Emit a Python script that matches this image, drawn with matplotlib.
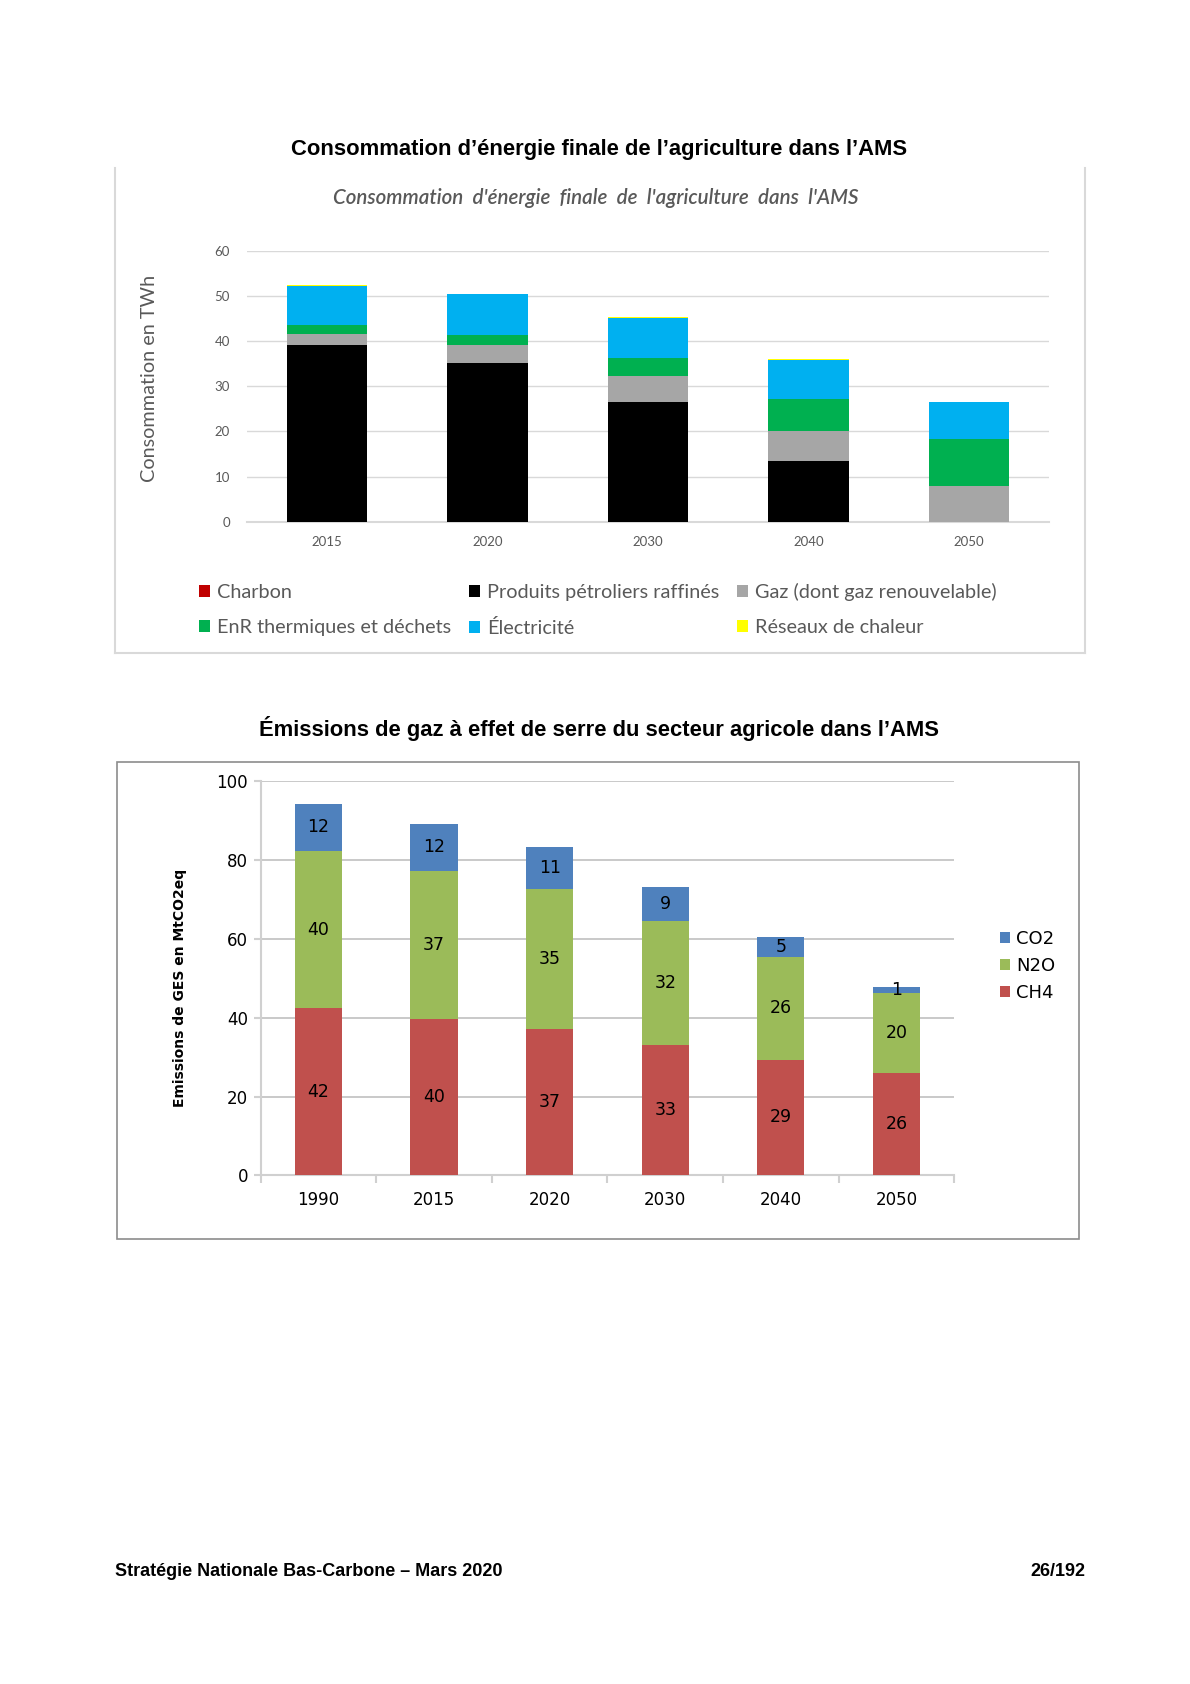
import matplotlib
matplotlib.use('Agg')
import matplotlib.pyplot as plt
from matplotlib.patches import Rectangle
from matplotlib.lines import Line2D
import numpy as np

# --- Energy consumption (TWh) ---
years_energy = ['2015', '2020', '2030', '2040', '2050']
charbon = [0.0, 0.0, 0.0, 0.0, 0.0]
petrole = [39.2, 35.1, 26.6, 13.4, 0.0]
gaz = [2.4, 4.1, 5.6, 6.7, 8.0]
enr = [1.9, 2.1, 4.0, 7.0, 10.3]
elec = [8.7, 9.1, 9.0, 8.7, 8.3]
chaleur = [0.3, 0.0, 0.2, 0.2, 0.0]

energy_names = ['Charbon', 'Produits pétroliers raffinés', 'Gaz (dont gaz renouvelable)',
                'EnR thermiques et déchets', 'Électricité', 'Réseaux de chaleur']
energy_colors = ['#c00000', '#000000', '#a6a6a6', '#00b050', '#00b0f0', '#ffff00']

# --- GHG emissions (MtCO2eq) ---
years_ghg = ['1990', '2015', '2020', '2030', '2040', '2050']
ch4 = [42.4, 39.8, 37.2, 33.0, 29.4, 25.9]
n2o = [39.9, 37.4, 35.4, 31.6, 26.1, 20.4]
co2 = [12.0, 12.1, 10.8, 8.7, 5.1, 1.4]
ghg_colors = {'CO2': '#4f81bd', 'N2O': '#9bbb59', 'CH4': '#c0504d'}

W, H = 1100.0, 1556.0  # layout reference grid


def fx(x):
    return x / W


def fy(y):
    return 1 - y / H


fig = plt.figure(figsize=(11.9, 16.84), dpi=100)
gray_txt = '#595959'

# ---------------- top chart ----------------
fig.text(fx(554), fy(138), 'Consommation d\u2019énergie finale de l\u2019agriculture dans l\u2019AMS',
         ha='center', va='center', fontsize=15.8, fontweight='bold', family='Liberation Sans')

# partial frame of the embedded chart
for xs, ys in [((106, 106), (155, 603)), ((106, 1003), (603, 603)), ((1003, 1003), (155, 603))]:
    fig.add_artist(Line2D([fx(xs[0]), fx(xs[1])], [fy(ys[0]), fy(ys[1])],
                          color='#d9d9d9', lw=1.5, transform=fig.transFigure))

fig.text(fx(551), fy(183), 'Consommation  d\'énergie  finale  de  l\'agriculture  dans  l\'AMS',
         ha='center', va='center', fontsize=14.8, style='italic', fontweight='semibold',
         color=gray_txt, family='Lato')

ax1 = fig.add_axes([fx(228), fy(482), fx(970) - fx(228), fy(232) - fy(482)])
x1 = np.arange(len(years_energy))
series = [charbon, petrole, gaz, enr, elec, chaleur]
bottom = np.zeros(len(years_energy))
handles = []
for vals, name, col in zip(series, energy_names, energy_colors):
    b = ax1.bar(x1, vals, 0.5, bottom=bottom, color=col, label=name, zorder=3)
    handles.append(b)
    bottom += np.array(vals)

ax1.set_xlim(-0.5, len(years_energy) - 0.5)
ax1.set_ylim(0, 60)
ax1.set_yticks(range(0, 61, 10))
ax1.set_xticks(x1)
ax1.set_xticklabels(years_energy)
ax1.grid(axis='y', color='#d9d9d9', lw=1, zorder=0)
for s in ['top', 'right', 'left']:
    ax1.spines[s].set_visible(False)
ax1.spines['bottom'].set_color('#d9d9d9')
ax1.spines['bottom'].set_linewidth(1.5)
ax1.tick_params(axis='both', length=0, colors=gray_txt, labelsize=9.5)
ax1.tick_params(axis='y', pad=12)
ax1.tick_params(axis='x', pad=10)
for lab in ax1.get_xticklabels() + ax1.get_yticklabels():
    lab.set_family('Lato')
fig.text(fx(138), fy(350), 'Consommation en TWh', rotation=90, ha='center', va='center',
         fontsize=14.3, color=gray_txt, family='Lato')

order = [0, 3, 1, 4, 2, 5]
leg1 = fig.legend([handles[i] for i in order], [energy_names[i] for i in order],
                  loc='upper left', bbox_to_anchor=(fx(184), fy(539)), ncol=3,
                  frameon=False, borderpad=0, borderaxespad=0,
                  handlelength=0.55, handleheight=0.55, handletextpad=0.35,
                  columnspacing=0.9, labelspacing=0.87,
                  prop={'family': 'Lato', 'size': 14.3})
for t in leg1.get_texts():
    t.set_color(gray_txt)

# ---------------- bottom chart ----------------
fig.text(fx(554), fy(673), 'Émissions de gaz à effet de serre du secteur agricole dans l\u2019AMS',
         ha='center', va='center', fontsize=15.8, fontweight='bold', family='Liberation Sans')

fig.add_artist(Rectangle((fx(108), fy(1145)), fx(997) - fx(108), fy(704) - fy(1145),
                         transform=fig.transFigure, fill=False, edgecolor='#8c8c8c', lw=1.2))

ax2 = fig.add_axes([fx(241), fy(1086), fx(882) - fx(241), fy(722) - fy(1086)])
x2 = np.arange(len(years_ghg))
b_ch4 = ax2.bar(x2, ch4, 0.41, color=ghg_colors['CH4'], label='CH4', zorder=3)
b_n2o = ax2.bar(x2, n2o, 0.41, bottom=ch4, color=ghg_colors['N2O'], label='N2O', zorder=3)
b_co2 = ax2.bar(x2, co2, 0.41, bottom=np.array(ch4) + np.array(n2o),
                color=ghg_colors['CO2'], label='CO2', zorder=3)
for b in (b_ch4, b_n2o, b_co2):
    ax2.bar_label(b, fmt='%.0f', label_type='center', fontsize=12.5, family='DejaVu Sans')

ax2.set_xlim(-0.5, len(years_ghg) - 0.5)
ax2.set_ylim(0, 100)
ax2.set_yticks(range(0, 101, 20))
ax2.set_xticks(x2)
ax2.set_xticklabels(years_ghg)
ax2.set_xticks(np.arange(-0.5, len(years_ghg)), minor=True)
ax2.grid(axis='y', color='#c0c0c0', lw=1.2, zorder=0)
for s in ['top', 'right']:
    ax2.spines[s].set_visible(False)
for s in ['left', 'bottom']:
    ax2.spines[s].set_color('#d0d0d0')
    ax2.spines[s].set_linewidth(1.5)
ax2.tick_params(axis='x', which='major', length=0, pad=11, labelsize=12)
ax2.tick_params(axis='x', which='minor', length=6, width=1.5, color='#d0d0d0')
ax2.tick_params(axis='y', length=5, width=1.5, color='#d0d0d0', pad=4, labelsize=12)
fig.text(fx(166), fy(913), 'Emissions de GES en MtCO2eq',
         rotation=90, ha='center', va='center', fontsize=10, fontweight='bold')

fig.legend([b_co2, b_n2o, b_ch4], ['CO2', 'N2O', 'CH4'], loc='upper left',
           bbox_to_anchor=(fx(924), fy(859)), frameon=False, borderpad=0, borderaxespad=0,
           handlelength=0.6, handleheight=0.6, handletextpad=0.3, labelspacing=0.5,
           prop={'family': 'DejaVu Sans', 'size': 13})

# ---------------- footer ----------------
fig.text(fx(106), fy(1452), 'Stratégie Nationale Bas-Carbone \u2013 Mars 2020', ha='left', va='center',
         fontsize=13, fontweight='bold', family='Liberation Sans')
fig.text(fx(1003), fy(1452), '26/192', ha='right', va='center',
         fontsize=13, fontweight='bold', family='Liberation Sans')

fig.savefig('out.png', dpi=100, facecolor='white')
